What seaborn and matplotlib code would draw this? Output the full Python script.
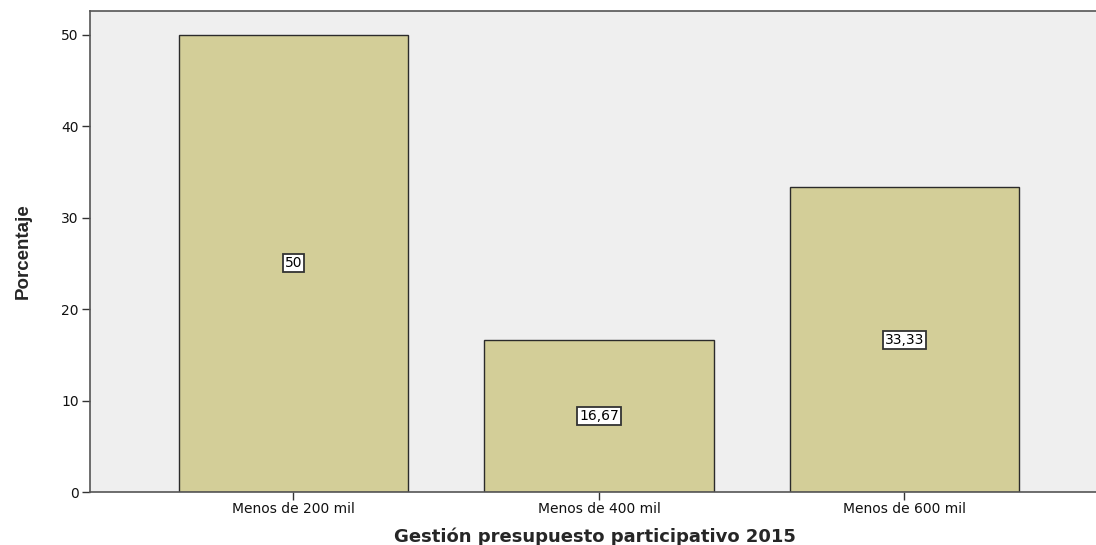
import matplotlib
matplotlib.use("Agg")
import matplotlib.pyplot as plt
import seaborn as sns
import pandas as pd

categorias = ["Menos de 200 mil", "Menos de 400 mil", "Menos de 600 mil"]
porcentajes = [50.0, 16.67, 33.33]
etiquetas = ["50", "16,67", "33,33"]

sns.set_style("white")
plt.rcParams["font.family"] = ["DejaVu Sans"]

df = pd.DataFrame({"cat": categorias, "pct": porcentajes})

fig = plt.figure(figsize=(10.96, 5.45), dpi=100)
ax = fig.add_axes([0.0821, 0.0972, 0.9179, 0.8826])
ax.set_facecolor("#EFEFEF")

sns.barplot(data=df, x="cat", y="pct", ax=ax, color="#D3CE98", saturation=1,
            width=0.75, edgecolor="#2B2B2B", linewidth=1.0)

for i, (v, t) in enumerate(zip(porcentajes, etiquetas)):
    ax.text(i, v / 2, t, ha="center", va="center", fontsize=10, color="black",
            bbox=dict(boxstyle="square,pad=0.15", facecolor="white",
                      edgecolor="#333333", linewidth=1.3))

ax.set_xlim(-0.666, 2.627)
ax.set_ylim(0, 52.6)
ax.set_yticks([0, 10, 20, 30, 40, 50])
ax.tick_params(axis="both", direction="out", length=6, width=1, colors="#333333",
               labelsize=10, labelcolor="#111111", left=True, bottom=True, pad=2)
ax.tick_params(axis="x", pad=1)
for s in ["left", "bottom", "top"]:
    ax.spines[s].set_color("#555555")
    ax.spines[s].set_linewidth(1.2)
ax.spines["right"].set_visible(False)

ax.set_ylabel("Porcentaje", fontsize=13.5, fontweight="bold",
              family=["Liberation Sans Narrow", "Liberation Sans"])
ax.yaxis.set_label_coords(-0.058, 0.5)
ax.set_xlabel("Gestión presupuesto participativo 2015", fontsize=13,
              fontweight="bold", va="center")
# x label centred on the bars' span
ax.xaxis.set_label_coords(0.502, -0.092)

fig.savefig("out.png", dpi=100)
